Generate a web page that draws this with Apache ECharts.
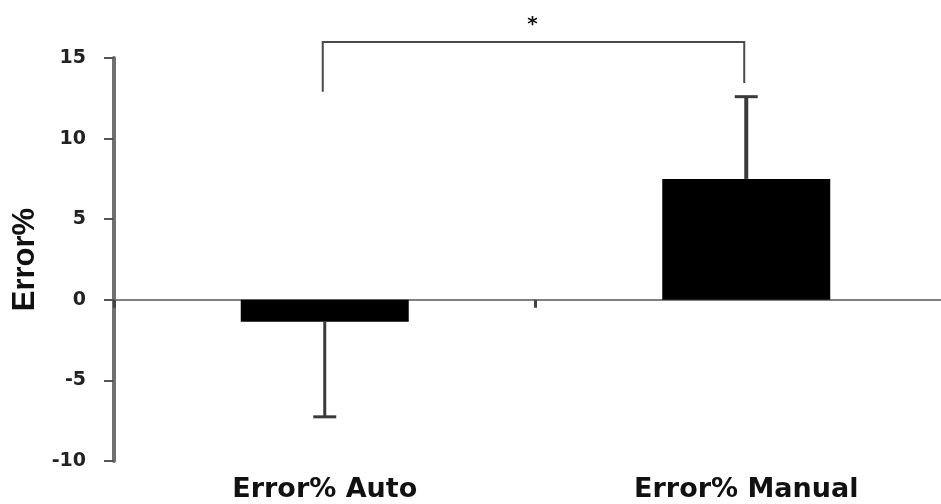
<!DOCTYPE html>
<html>
<head>
<meta charset="utf-8">
<script src="https://cdn.jsdelivr.net/npm/echarts@6/dist/echarts.min.js"></script>
<style>
html,body{margin:0;padding:0;background:#fff;overflow:hidden;width:941px;height:504px;}
#chart{width:957px;height:504px;}
</style>
</head>
<body>
<div id="chart"></div>
<script>
// ---- data ----
var categories = ['Error% Auto', 'Error% Manual'];
var means = [-1.36, 7.5];
var errors = [5.9, 5.1];           // one-sided error bar length (away from zero)
var yTicks = { min: -10, max: 15, interval: 5 };
var bracketFrom = 0, bracketTo = 1;
var bracketLeftY = 12.9, bracketTopY = 16.0, bracketRightY = 13.45;
var starY = 17.3;
var starText = '*';
var yAxisTitle = 'Error%';

var errData = means.map(function (m, i) {
  var end = m < 0 ? m - errors[i] : m + errors[i];
  return [i, m, end];
});

var chart = echarts.init(document.getElementById('chart'), null, { renderer: 'canvas' });

var option = {
  backgroundColor: '#ffffff',
  animation: false,
  grid: { left: 114, right: 0, top: 58, bottom: 43, containLabel: false },
  xAxis: [
    {
      type: 'category',
      data: categories,
      axisLine: { show: true, onZero: true, lineStyle: { color: '#808080', width: 2 } },
      axisTick: { show: true, length: 8, lineStyle: { color: '#444', width: 3 } },
      axisLabel: { show: false },
      splitLine: { show: false }
    },
    {
      type: 'category',
      data: categories,
      position: 'bottom',
      axisLine: { show: false, onZero: false },
      axisTick: { show: false },
      axisLabel: {
        show: true,
        margin: 15,
        color: '#111',
        fontFamily: 'DejaVu Sans',
        fontWeight: 'bold',
        fontSize: 27
      },
      splitLine: { show: false }
    }
  ],
  yAxis: {
    type: 'value',
    min: yTicks.min,
    max: yTicks.max,
    interval: yTicks.interval,
    name: yAxisTitle,
    nameLocation: 'middle',
    nameGap: 64,
    nameRotate: 90,
    nameTextStyle: {
      color: '#111',
      fontFamily: 'Liberation Sans',
      fontWeight: 'bold',
      fontSize: 31
    },
    axisLine: { show: true, lineStyle: { color: '#707070', width: 4 } },
    axisTick: { show: true, length: 10, lineStyle: { color: '#555', width: 2 } },
    axisLabel: {
      margin: 28,
      color: '#222',
      fontFamily: 'DejaVu Sans',
      fontWeight: 'bold',
      fontSize: 19
    },
    splitLine: { show: false }
  },
  series: [
    {
      type: 'bar',
      data: means,
      barWidth: 168,
      itemStyle: { color: '#000000' },
      z: 2
    },
    {
      type: 'custom',
      data: errData,
      z: 3,
      renderItem: function (params, api) {
        var x = api.value(0);
        var p0 = api.coord([x, api.value(1)]);
        var p1 = api.coord([x, api.value(2)]);
        var capHalf = 11.5;
        var w = params.dataIndex === 0 ? 3 : 4;
        return {
          type: 'group',
          children: [
            { type: 'line', shape: { x1: p0[0], y1: p0[1], x2: p1[0], y2: p1[1] },
              style: { stroke: '#3a3a3a', lineWidth: w } },
            { type: 'line', shape: { x1: p1[0] - capHalf, y1: p1[1], x2: p1[0] + capHalf, y2: p1[1] },
              style: { stroke: '#3a3a3a', lineWidth: 3 } }
          ]
        };
      }
    },
    {
      type: 'custom',
      data: [[bracketFrom, bracketTo, bracketLeftY, bracketTopY, bracketRightY, starY]],
      z: 3,
      clip: false,
      renderItem: function (params, api) {
        var a = api.coord([api.value(0), api.value(2)]);
        var aTop = api.coord([api.value(0), api.value(3)]);
        var bTop = api.coord([api.value(1), api.value(3)]);
        var b = api.coord([api.value(1), api.value(4)]);
        var s = api.coord([api.value(0), api.value(5)]);
        var s2 = api.coord([api.value(1), api.value(5)]);
        var lx = a[0] - 2, rx = b[0] - 2;
        return {
          type: 'group',
          children: [
            { type: 'polyline',
              shape: { points: [[lx, a[1]], [lx, aTop[1]], [rx, bTop[1]], [rx, b[1]]] },
              style: { stroke: '#4a4a4a', lineWidth: 2, fill: null } },
            { type: 'text',
              style: { text: starText, x: (s[0] + s2[0]) / 2 - 3, y: s[1] + 4,
                       align: 'center', verticalAlign: 'middle',
                       font: 'bold 20px "DejaVu Sans"', fill: '#111' } }
          ]
        };
      }
    }
  ]
};

chart.setOption(option);
</script>
</body>
</html>
